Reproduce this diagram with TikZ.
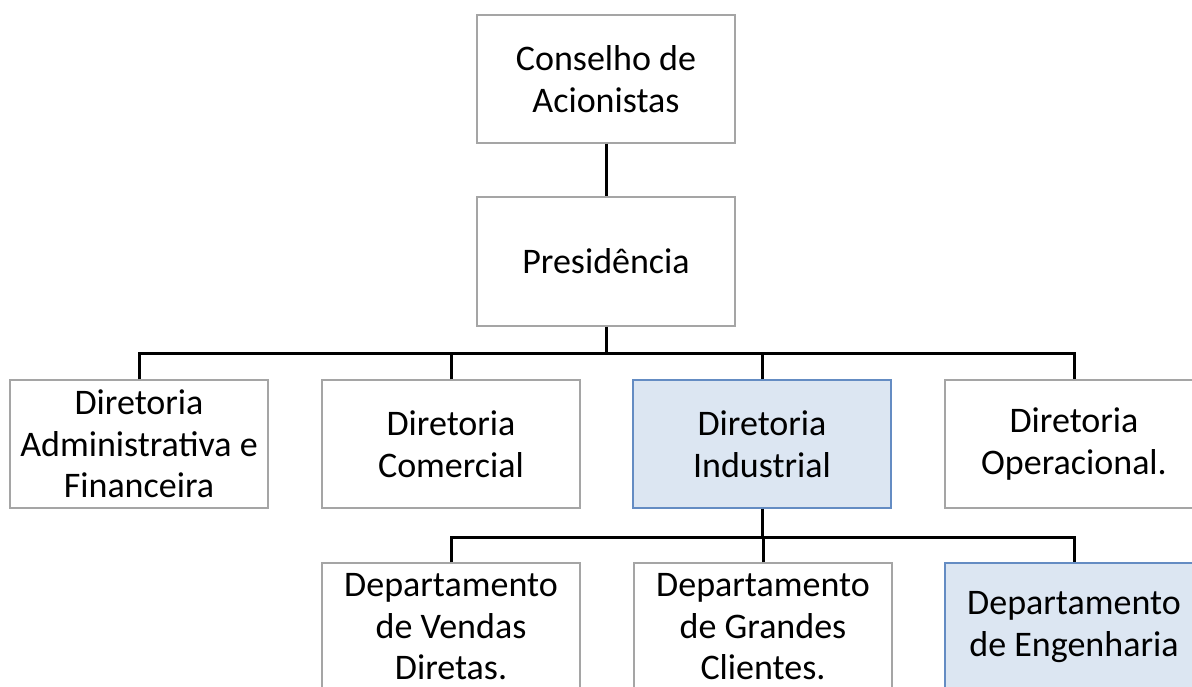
\documentclass[tikz,border=0pt]{standalone}
\usepackage{fontspec}
\setmainfont{Carlito}
\usetikzlibrary{positioning}
\definecolor{boxgray}{RGB}{165,165,165}
\definecolor{selfill}{RGB}{220,230,242}
\definecolor{seldraw}{RGB}{100,140,195}

\begin{document}
\begin{tikzpicture}[x=1pt,y=-1pt,
    unit/.style={draw=boxgray,line width=1.3pt,fill=white,minimum width=258pt,
    minimum height=128pt,inner sep=0pt,align=center,
    font=\fontsize{36}{41.5}\selectfont},
    sel/.style={unit,draw=seldraw,fill=selfill},
    link/.style={draw=black,line width=3pt}]
    \useasboundingbox (0,0) rectangle (1192,686);

    \node[unit] (cons) at (606,79) {Conselho de\\Acionistas};
    \node[unit,minimum height=129pt] (pres) at (606,261.5) {Presidência};

    \node[unit] (adm) at (139,444) {Diretoria\\Administrativa e\\Financeira};
    \node[unit] (com) at (451,444) {Diretoria\\Comercial};
    \node[sel] (ind) at (762,444) {Diretoria\\Industrial};
    \node[unit] (ope) at (1074,444) {Diretoria\\Operacional.};

    \node[unit] (vend) at (451,627) {Departamento\\de Vendas\\Diretas.};
    \node[unit] (gran) at (763,627) {Departamento\\de Grandes\\Clientes.};
    \node[sel] (eng) at (1074,627) {Departamento\\de Engenharia};

    \coordinate (bus) at (606,353);
    \coordinate (sub) at (762,537);

    \path[link]
    (cons) edge (pres)
    (pres) edge (pres |- bus)
    (adm.north) edge[to path={|- (\tikztotarget) -| (ope.north)}] (bus)
    (com.north) edge (com.north |- bus)
    (ind.north) edge (ind.north |- bus)
    (ind.south) edge (ind.south |- sub)
    (vend.north) edge[to path={|- (\tikztotarget) -| (eng.north)}] (sub)
    (gran.north) edge (gran.north |- sub);
\end{tikzpicture}
\end{document}
